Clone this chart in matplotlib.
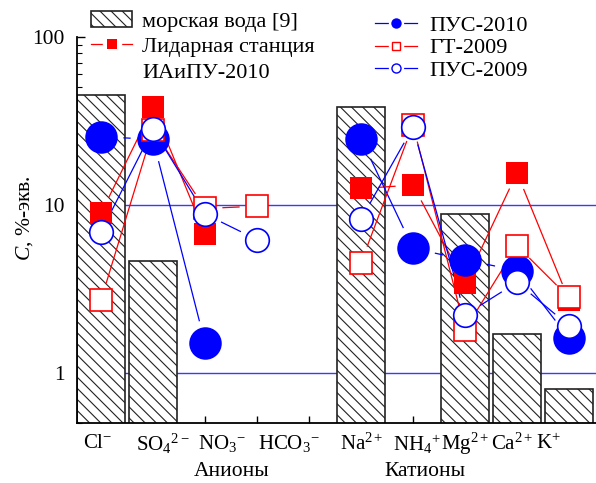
import numpy as np
import matplotlib
matplotlib.use("Agg")
import matplotlib.pyplot as plt
import matplotlib.transforms as mtransforms
from matplotlib.patches import Patch
from matplotlib.lines import Line2D

plt.rcParams["font.family"] = ["Liberation Serif", "DejaVu Serif"]
plt.rcParams["mathtext.fontset"] = "custom"
plt.rcParams["mathtext.rm"] = "Liberation Serif"
plt.rcParams["mathtext.it"] = "Liberation Serif:italic"
plt.rcParams["hatch.linewidth"] = 0.8

FS = 15.5
LEG_FS = 16
RED = "#ff0000"
BLUE = "#0000ff"
NAN = np.nan

# slot 4 stays empty between the anion and cation groups
slots = [0, 1, 2, 3, 5, 6, 7, 8, 9]
ion_labels = [r"Cl$^{-}$", r"SO$_4$$^{2-}$", r"NO$_3$$^{-}$", r"HCO$_3$$^{-}$",
              r"Na$^{2+}$", r"NH$_4$$^{+}$", r"Mg$^{2+}$", r"Ca$^{2+}$", r"K$^{+}$"]
group_labels = ["Анионы", "Катионы"]

# C, %-экв.
seawater = [45.0, 4.65, NAN, NAN, 38.5, NAN, 8.8, 1.7, 0.8]
lidar_2010 = [8.9, 38.0, 6.7, NAN, 12.5, 13.1, 3.4, 15.5, 2.7]
pus_2010 = [25.5, 24.5, 1.5, NAN, 24.8, 5.5, 4.7, 4.05, 1.6]
gt_2009 = [2.7, 28.0, 9.5, 9.8, 4.5, 30.0, 1.8, 5.7, 2.8]
pus_2009 = [6.9, 28.2, 8.8, 6.2, 8.2, 29.0, 2.2, 3.45, 1.9]

# label placement (data x), the labels in the original are not centred on slots
ion_label_x = [-0.06, 1.19, 2.32, 3.62, 5.02, 6.08, 7.0, 7.9, 8.6]
group_label_x = [2.52, 6.23]


def gapped_line(ax, xs, ys, color, gap, z):
    """Connect neighbouring points, leaving a gap of `gap` px around each marker."""
    for x0, y0, x1, y1 in zip(xs[:-1], ys[:-1], xs[1:], ys[1:]):
        if np.isnan(y0) or np.isnan(y1) or x1 - x0 != 1:
            continue
        p0, p1 = ax.transData.transform([(x0, y0), (x1, y1)])
        d = p1 - p0
        dist = np.hypot(*d)
        if dist <= 2 * gap:
            continue
        u = d / dist
        a, b = ax.transData.inverted().transform([p0 + u * gap, p1 - u * gap])
        ax.plot([a[0], b[0]], [a[1], b[1]], color=color, lw=0.9, zorder=z)


fig = plt.figure(figsize=(5.96, 4.83), dpi=100)
ax = fig.add_axes([77 / 596, 1 - 423 / 483, 519 / 596, 386 / 483])
ax.set_yscale("log")
ax.set_ylim(0.5, 100)
ax.set_xlim(-0.4615, 9.52)

for sp in ("top", "right"):
    ax.spines[sp].set_visible(False)
ax.spines["left"].set_linewidth(1.3)
ax.spines["bottom"].set_linewidth(1.3)

ax.set_yticks([1, 10, 100], labels=["1", "10", "100"])
ax.yaxis.set_minor_formatter(matplotlib.ticker.NullFormatter())
ax.tick_params(axis="y", which="major", direction="in", length=6, width=1, labelsize=FS, pad=9)
ax.tick_params(axis="y", which="minor", direction="in", length=3.5, width=0.8)
ax.set_xticks(range(10))
ax.tick_params(axis="x", direction="in", length=5, width=1, labelbottom=False)

for v in (1, 10):
    ax.axhline(v, color="#3a3aff", lw=1.0, zorder=1)

sw_x = [x for x, v in zip(slots, seawater) if not np.isnan(v)]
sw_v = [v for v in seawater if not np.isnan(v)]
ax.bar(sw_x, sw_v, width=0.923, bottom=0.0, color="white", edgecolor="#222222",
       hatch="\\\\\\", linewidth=1.2, zorder=2)

series = [
    # values, color, marker, size, face, gap(px)
    (lidar_2010, RED, "s", 16.2, RED, 18),
    (pus_2010, BLUE, "o", 23.4, BLUE, 23),
    (gt_2009, RED, "s", 15.6, "white", 18),
    (pus_2009, BLUE, "o", 17.0, "white", 18.5),
]

fig.canvas.draw()
for vals, col, mk, ms, face, gap in series:
    gapped_line(ax, slots, vals, col, gap, 3)
for i, (vals, col, mk, ms, face, gap) in enumerate(series):
    filled = face != "white"
    ax.plot(slots, vals, ls="none", marker=mk, ms=ms, mfc=face, mec=col,
            mew=0 if filled else 1.2, zorder=4 + i, clip_on=False)

# category labels
tr = mtransforms.blended_transform_factory(ax.transData, fig.transFigure)
for x, lab in zip(ion_label_x, ion_labels):
    ax.text(x, 1 - 444 / 483, lab, transform=tr, ha="center", va="center", fontsize=15)
for x, lab in zip(group_label_x, group_labels):
    ax.text(x, 1 - 471 / 483, lab, transform=tr, ha="center", va="center", fontsize=FS)

fig.text(25 / 596, 1 - 218 / 483, r"$C$, %-экв.", rotation=90, ha="center", va="center",
         fontsize=FS)


# legends
def gap_handle(col, mk, ms, face, mew, white_ms):
    halo = Line2D([], [], color=col, lw=0.9, marker=mk, ms=white_ms, mfc="white", mec="white")
    mark = Line2D([], [], ls="none", marker=mk, ms=ms, mfc=face, mec=col, mew=mew)
    return (halo, mark)


h_sea = Patch(facecolor="white", edgecolor="#222222", hatch="\\\\\\", lw=1.2)
h_lidar = gap_handle(RED, "s", 6.5, RED, 0, 13)
h_blank = Line2D([], [], ls="none")
leg1 = ax.legend([h_sea, h_lidar, h_blank],
                 ["морская вода [9]", "Лидарная станция", "ИАиПУ-2010"],
                 loc="upper left", bbox_to_anchor=(91 / 596, 1 - 11 / 483),
                 bbox_transform=fig.transFigure, frameon=False, fontsize=LEG_FS,
                 borderpad=0, borderaxespad=0, handlelength=1.85, handleheight=0.72,
                 handletextpad=0.45, labelspacing=0.22)
ax.add_artist(leg1)

h_p10 = gap_handle(BLUE, "o", 7.5, BLUE, 0, 10)
h_gt = gap_handle(RED, "s", 5.5, "white", 1.0, 10)
h_p09 = gap_handle(BLUE, "o", 6.5, "white", 1.0, 10)
ax.legend([h_p10, h_gt, h_p09], ["ПУС-2010", "ГТ-2009", "ПУС-2009"],
          loc="upper left", bbox_to_anchor=(375 / 596, 1 - 15 / 483),
          bbox_transform=fig.transFigure, frameon=False, fontsize=LEG_FS,
          borderpad=0, borderaxespad=0, handlelength=1.9,
          handletextpad=0.55, labelspacing=0.1)

fig.savefig("out.png", dpi=100)
